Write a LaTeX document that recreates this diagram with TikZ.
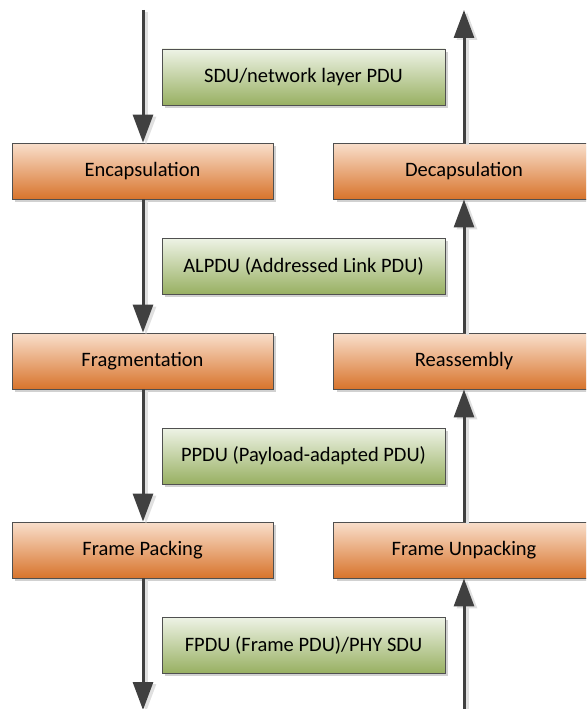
\documentclass[tikz,border=0pt]{standalone}
\usepackage{fontspec}
\setmainfont{Carlito}
\usetikzlibrary{arrows.meta,shadows}
\definecolor{orangetop}{HTML}{F9DFCC}
\definecolor{orangebot}{HTML}{D8742C}
\definecolor{greentop}{HTML}{EEF3E6}
\definecolor{greenbot}{HTML}{98B062}
\definecolor{edgegray}{HTML}{505050}
\definecolor{flowgray}{HTML}{404040}
\tikzset{
  boxbase/.style={draw=edgegray, line width=0.9pt, minimum width=261pt, minimum height=56pt,
    inner sep=0pt, font=\fontsize{20.5}{24}\selectfont,
    drop shadow={shadow xshift=3pt, shadow yshift=-3pt, fill=black!18, opacity=1}},
  process/.style={boxbase, top color=orangetop, bottom color=orangebot},
  pdu/.style={boxbase, minimum width=283pt, top color=greentop, bottom color=greenbot},
  flow/.style={draw=flowgray, line width=3pt, -{Triangle[length=28pt,width=20pt]}},
  flowshadow/.style={draw=black!12, line width=3pt, -{Triangle[length=28pt,width=20pt]}, transform canvas={xshift=3pt,yshift=-2pt}},
}
\begin{document}
\begin{tikzpicture}[x=1pt,y=-1pt]
  \useasboundingbox (0,0) rectangle (586,709);
  \clip (0,0) rectangle (586,709);

  % sending side (left column)
  \node[process] (enc)  at (142.5,171) {Encapsulation};
  \node[process] (frag) at (142.5,361) {Fragmentation};
  \node[process] (pack) at (142.5,550) {Frame Packing};

  % receiving side (right column)
  \node[process] (dec)   at (464,171) {Decapsulation};
  \node[process] (reas)  at (464,361) {Reassembly};
  \node[process] (unpack) at (464,550) {Frame Unpacking};

  % data units exchanged between the layers
  \node[pdu] (sdu)   at (303.5,77)  {SDU/network layer PDU};
  \node[pdu] (alpdu) at (303.5,266) {ALPDU (Addressed Link PDU)};
  \node[pdu] (ppdu)  at (303.5,456) {PPDU (Payload-adapted PDU)};
  \node[pdu] (fpdu)  at (303.5,645) {FPDU (Frame PDU)/PHY SDU};

  % open ends of the two flows
  \coordinate (intop)  at (143,10);
  \coordinate (inbot)  at (143,710);
  \coordinate (outtop) at (464,10);
  \coordinate (outbot) at (464,710);

  % soft shadows under the flow arrows
  \begin{scope}[on background layer/.try]
    \draw[flowshadow] (intop) -- (enc.north -| intop);
    \draw[flowshadow] (enc.south -| intop) -- (frag.north -| intop);
    \draw[flowshadow] (frag.south -| intop) -- (pack.north -| intop);
    \draw[flowshadow] (pack.south -| intop) -- (inbot);
    \draw[flowshadow] (outbot) -- (unpack.south -| outbot);
    \draw[flowshadow] (unpack.north -| outbot) -- (reas.south -| outbot);
    \draw[flowshadow] (reas.north -| outbot) -- (dec.south -| outbot);
    \draw[flowshadow] (dec.north -| outbot) -- (outtop);
  \end{scope}

  % downward flow
  \draw[flow] (intop) -- (enc.north -| intop);
  \draw[flow] (enc.south -| intop) -- (frag.north -| intop);
  \draw[flow] (frag.south -| intop) -- (pack.north -| intop);
  \draw[flow] (pack.south -| intop) -- (inbot);

  % upward flow
  \draw[flow] (outbot) -- (unpack.south -| outbot);
  \draw[flow] (unpack.north -| outbot) -- (reas.south -| outbot);
  \draw[flow] (reas.north -| outbot) -- (dec.south -| outbot);
  \draw[flow] (dec.north -| outbot) -- (outtop);
\end{tikzpicture}
\end{document}
